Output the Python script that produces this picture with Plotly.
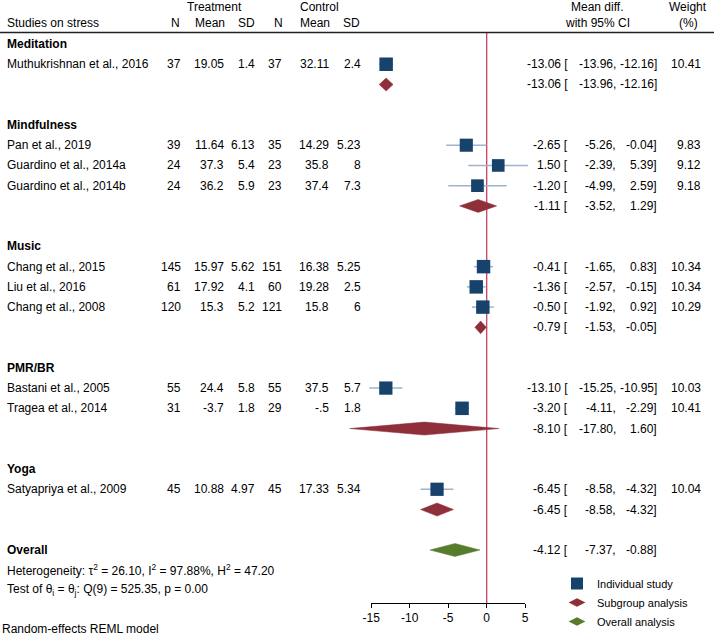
import plotly.graph_objects as go

# ---------------- data ----------------
groups = ["Meditation", "Mindfulness", "Music", "PMR/BR", "Yoga"]
studies = ["Muthukrishnan et al., 2016", "Pan et al., 2019", "Guardino et al., 2014a",
           "Guardino et al., 2014b", "Chang et al., 2015", "Liu et al., 2016",
           "Chang et al., 2008", "Bastani et al., 2005", "Tragea et al., 2014",
           "Satyapriya et al., 2009"]
study_group = ["Meditation", "Mindfulness", "Mindfulness", "Mindfulness", "Music", "Music",
               "Music", "PMR/BR", "PMR/BR", "Yoga"]
t_n = ["37", "39", "24", "24", "145", "61", "120", "55", "31", "45"]
t_mean = ["19.05", "11.64", "37.3", "36.2", "15.97", "17.92", "15.3", "24.4", "-3.7", "10.88"]
t_sd = ["1.4", "6.13", "5.4", "5.9", "5.62", "4.1", "5.2", "5.8", "1.8", "4.97"]
c_n = ["37", "35", "23", "23", "151", "60", "121", "55", "29", "45"]
c_mean = ["32.11", "14.29", "35.8", "37.4", "16.38", "19.28", "15.8", "37.5", "-.5", "17.33"]
c_sd = ["2.4", "5.23", "8", "7.3", "5.25", "2.5", "6", "5.7", "1.8", "5.34"]
md = [-13.06, -2.65, 1.50, -1.20, -0.41, -1.36, -0.50, -13.10, -3.20, -6.45]
md_lo = [-13.96, -5.26, -2.39, -4.99, -1.65, -2.57, -1.92, -15.25, -4.11, -8.58]
md_hi = [-12.16, -0.04, 5.39, 2.59, 0.83, -0.15, 0.92, -10.95, -2.29, -4.32]
weight = [10.41, 9.83, 9.12, 9.18, 10.34, 10.34, 10.29, 10.03, 10.41, 10.04]

sub_md = [-13.06, -1.11, -0.79, -8.10, -6.45]
sub_lo = [-13.96, -3.52, -1.53, -17.80, -8.58]
sub_hi = [-12.16, 1.29, -0.05, 1.60, -4.32]

overall_md, overall_lo, overall_hi = -4.12, -7.37, -0.88
het_text = "Heterogeneity: τ<sup>2</sup> = 26.10, I<sup>2</sup> = 97.88%, H<sup>2</sup> = 47.20"
test_text = "Test of θ<sub>i</sub> = θ<sub>j</sub>: Q(9) = 525.35, p = 0.00"
model_text = "Random-effects REML model"
x_ticks = [-15, -10, -5, 0, 5]
x_tick_labels = ["-15", "-10", "-5", "0", "5"]

# ---------------- layout helpers ----------------
W, H = 714, 641
ZERO_PX, PX_PER_UNIT = 486.7, 7.7
XMIN = -ZERO_PX / PX_PER_UNIT
XMAX = (W - ZERO_PX) / PX_PER_UNIT
ROW0_PX, ROW_PX = 44.0, 20.24
YTOP = 1 - ROW0_PX / ROW_PX
YBOT = 1 + (H - ROW0_PX) / ROW_PX
AXIS_PX = 603
AXIS_ROW = 1 + (AXIS_PX - ROW0_PX) / ROW_PX
HEADER_LINE_ROW = 1 + (32.5 - ROW0_PX) / ROW_PX

FONT = "Liberation Sans, Arial, sans-serif"
BLUE = "#17426c"
CI_COL = "#9db4cc"
RED = "#8f2f39"
GREEN = "#587c2e"
REFLINE = "#c9405e"

def px(x):
    return x / W

# assign rows
group_row, study_row, sub_row = {}, [], {}
k = 1
for g in groups:
    group_row[g] = k
    k += 1
    for i, s in enumerate(studies):
        if study_group[i] == g:
            study_row.append((i, k))
            k += 1
    sub_row[g] = k
    k += 2
overall_row = k
rows_by_study = dict(study_row)
srow = [rows_by_study[i] for i in range(len(studies))]

fig = go.Figure()

# reference line at zero
fig.add_trace(go.Scatter(x=[0, 0], y=[HEADER_LINE_ROW, AXIS_ROW], mode="lines",
                         line=dict(color=REFLINE, width=1.3), showlegend=False,
                         hoverinfo="skip"))

# CI lines
cx, cy = [], []
for i in range(len(studies)):
    cx += [md_lo[i], md_hi[i], None]
    cy += [srow[i], srow[i], None]
fig.add_trace(go.Scatter(x=cx, y=cy, mode="lines", line=dict(color=CI_COL, width=1.5),
                         showlegend=False, hoverinfo="skip"))

# squares
sizes = [13.5 * (w / max(weight)) ** 0.5 for w in weight]
fig.add_trace(go.Scatter(x=md, y=srow, mode="markers", name="Individual study",
                         marker=dict(symbol="square", size=sizes, color=BLUE, opacity=1,
                                     line=dict(width=0)),
                         showlegend=True))

# subgroup diamonds
HH = 0.32
for gi, g in enumerate(groups):
    r = sub_row[g]
    fig.add_trace(go.Scatter(
        x=[sub_lo[gi], sub_md[gi], sub_hi[gi], sub_md[gi], sub_lo[gi]],
        y=[r, r - HH, r, r + HH, r], mode="lines", fill="toself",
        fillcolor=RED, line=dict(color=RED, width=0.5), showlegend=False,
        hoverinfo="skip"))
# overall diamond
r = overall_row
fig.add_trace(go.Scatter(
    x=[overall_lo, overall_md, overall_hi, overall_md, overall_lo],
    y=[r, r - HH, r, r + HH, r], mode="lines", fill="toself",
    fillcolor=GREEN, line=dict(color=GREEN, width=0.5), showlegend=False,
    hoverinfo="skip"))

# legend-only entries
fig.add_trace(go.Scatter(x=[None], y=[None], mode="markers", name="Subgroup analysis",
                         marker=dict(symbol="diamond-wide", size=16, color=RED)))
fig.add_trace(go.Scatter(x=[None], y=[None], mode="markers", name="Overall analysis",
                         marker=dict(symbol="diamond-wide", size=16, color=GREEN)))

# placeholder trace so the scale axis subplot gets drawn
fig.add_trace(go.Scatter(x=[None], y=[None], xaxis="x2", yaxis="y2", mode="markers",
                         showlegend=False, hoverinfo="skip"))

ann = []

def txt(x_px, row, text, anchor="left", size=12):
    ann.append(dict(x=px(x_px), y=row, xref="paper", yref="y", text=text,
                    showarrow=False, xanchor=anchor, yanchor="middle",
                    font=dict(family=FONT, size=size, color="#000000")))

# headers
h1 = 1 + (6.5 - ROW0_PX) / ROW_PX
h2 = 1 + (22.5 - ROW0_PX) / ROW_PX
txt(214, h1, "Treatment", "center")
txt(319, h1, "Control", "center")
txt(597, h1, "Mean diff.", "center")
txt(688, h1, "Weight", "center")
txt(5, h2, "Studies on stress")
txt(182, h2, "N", "right")
txt(227, h2, "Mean", "right")
txt(257, h2, "SD", "right")
txt(285, h2, "N", "right")
txt(332, h2, "Mean", "right")
txt(362, h2, "SD", "right")
txt(597, h2, "with 95% CI", "center")
txt(688, h2, "(%)", "center")

def ci_text(row, est, lo, hi):
    txt(570, row, f"{est:.2f} [", "right")
    txt(618, row, f"{lo:.2f},", "right")
    txt(659, row, f"{hi:.2f}]", "right")

for g in groups:
    txt(5, group_row[g], f"<b>{g}</b>")
for i in range(len(studies)):
    r = srow[i]
    txt(5, r, studies[i])
    txt(183, r, t_n[i], "right")
    txt(226, r, t_mean[i], "right")
    txt(257, r, t_sd[i], "right")
    txt(284, r, c_n[i], "right")
    txt(331, r, c_mean[i], "right")
    txt(363, r, c_sd[i], "right")
    ci_text(r, md[i], md_lo[i], md_hi[i])
    txt(703, r, f"{weight[i]:.2f}", "right")
for gi, g in enumerate(groups):
    ci_text(sub_row[g], sub_md[gi], sub_lo[gi], sub_hi[gi])

txt(5, overall_row, "<b>Overall</b>")
ci_text(overall_row, overall_md, overall_lo, overall_hi)
txt(5, overall_row + 1, het_text)
txt(5, overall_row + 2, test_text)
txt(0, 1 + (629 - ROW0_PX) / ROW_PX, model_text)

fig.update_layout(
    width=W, height=H,
    margin=dict(l=0, r=0, t=0, b=0, pad=0, autoexpand=False),
    paper_bgcolor="white", plot_bgcolor="rgba(0,0,0,0)",
    font=dict(family=FONT, size=12, color="#000000"),
    xaxis=dict(range=[XMIN, XMAX], visible=False, domain=[0, 1], fixedrange=True,
               automargin=False),
    yaxis=dict(range=[YBOT, YTOP], visible=False, domain=[0, 1], fixedrange=True,
               automargin=False),
    xaxis2=dict(range=[-15, 5], domain=[(ZERO_PX - 15 * PX_PER_UNIT) / W,
                                         (ZERO_PX + 5 * PX_PER_UNIT) / W],
                anchor="y2", tickvals=x_ticks, ticktext=x_tick_labels,
                ticks="outside", ticklen=4,
                tickcolor="#000000", showline=True, linecolor="#000000", linewidth=1,
                showgrid=False, zeroline=False, fixedrange=True, automargin=False,
                tickfont=dict(family=FONT, size=12, color="#000000")),
    yaxis2=dict(domain=[(H - AXIS_PX) / H, 0.2], anchor="x2", visible=False,
                range=[0, 1], fixedrange=True, automargin=False),
    showlegend=True,
    legend=dict(x=557 / W, y=(H - 569) / H, xanchor="left", yanchor="top",
                bgcolor="rgba(0,0,0,0)", borderwidth=0, tracegroupgap=0,
                itemsizing="constant",
                font=dict(family=FONT, size=11, color="#000000")),
    annotations=ann,
    shapes=[dict(type="line", xref="paper", yref="y", x0=0, x1=1,
                 y0=HEADER_LINE_ROW, y1=HEADER_LINE_ROW,
                 line=dict(color="#222222", width=1.5))],
)

fig.write_html("out.html", config={"displayModeBar": False},
               post_script="document.body.style.margin='0';")
